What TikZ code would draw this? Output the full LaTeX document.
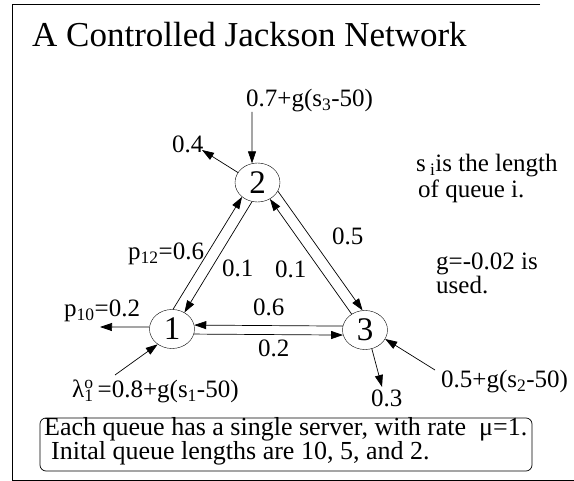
\documentclass[tikz,border=0pt]{standalone}
\usepackage{fontspec}
\setmainfont{Liberation Serif}
\usepackage{tikz}
\usetikzlibrary{positioning,arrows.meta,shapes.geometric}

\begin{document}
\begin{tikzpicture}[
  x=1pt, y=-1pt,
  queue/.style={draw, ellipse, minimum width=45pt, minimum height=39pt, inner sep=0pt, font=\fontsize{33}{33}\selectfont},
  lbl/.style={anchor=base west, inner sep=0pt, font=\fontsize{25}{25}\selectfont},
  infobox/.style={draw, rounded corners=6pt, minimum width=492pt, minimum height=53pt, line width=0.7pt},
  arrow/.style={-{Triangle[length=12pt,width=8pt]}, line width=0.7pt}
]
\useasboundingbox (0,0) rectangle (574,481);
\draw[line width=0.8pt] (540,4) -- (12,4) -- (12,480) -- (574,480);

\node[lbl, font=\fontsize{35}{35}\selectfont] (title) at (32,47) {A Controlled Jackson Network};

% queues
\node[queue] (q1) at (172,329) {1};
\node[queue] (q2) at (257.5,182.5) {2};
\node[queue] (q3) at (365,330) {3};

% routing between queues
\draw[arrow] (q1.87) -- (q2.223);
\draw[arrow] (q2.254) -- (q1.53);
\draw[arrow] (q3.130) -- (q2.307);
\draw[arrow] (q2.337) -- (q3.97);
\draw[arrow] (q3.170) -- (q1.10);
\draw[arrow] (q1.-13) -- (q3.193);

\node[lbl] (p12) at (128,260) {p\textsubscript{12}=0.6};
\node[lbl] (p21) at (222,277) {0.1};
\node[lbl] (p32) at (275,278) {0.1};
\node[lbl] (p23) at (332,245) {0.5};
\node[lbl] (p31) at (253,316) {0.6};
\node[lbl] (p13) at (258,357) {0.2};

% arrivals and departures
\coordinate (in2) at (252,112);
\coordinate (out2) at (202,150);
\coordinate (out1) at (100,327);
\coordinate (in1) at (115,375);
\coordinate (out3) at (382,387);
\coordinate (in3) at (435,370);
\draw[arrow] (in2) -- (q2.106);
\draw[arrow] (q2.153) -- (out2);
\draw[arrow] (q1.175) -- (out1);
\draw[arrow] (in1) -- (q1.227);
\draw[arrow] (q3.290) -- (out3);
\draw[arrow] (in3) -- (q3.336);

\node[lbl] (lam2) at (246,107) {0.7+g(s\textsubscript{3}-50)};
\node[lbl] (p20) at (172,153) {0.4};
\node[lbl] (p10) at (64,317) {p\textsubscript{10}=0.2};
\node[lbl] (lam1) at (72,398) {λ\rlap{\textsuperscript{o}}\textsubscript{1}\,=0.8+g(s\textsubscript{1}-50)};
\node[lbl] (p30) at (371,407) {0.3};
\node[lbl] (lam3) at (441,388) {0.5+g(s\textsubscript{2}-50)};

% notes
\node[lbl] (note1) at (416,172) {s\,\textsubscript{i}is the length};
\node[lbl] (note2) at (418,198) {of queue i.};
\node[lbl] (note3) at (436,270) {g=-0.02 is};
\node[lbl] (note4) at (436,294) {used.};

\node[infobox] (info) at (286,444.5) {};
\node[lbl, font=\fontsize{26}{26}\selectfont] (info1) at (44,436) {Each queue has a single server, with rate \ μ=1.};
\node[lbl, font=\fontsize{26}{26}\selectfont] (info2) at (51,460) {Inital queue lengths are 10, 5, and 2.};
\end{tikzpicture}
\end{document}
